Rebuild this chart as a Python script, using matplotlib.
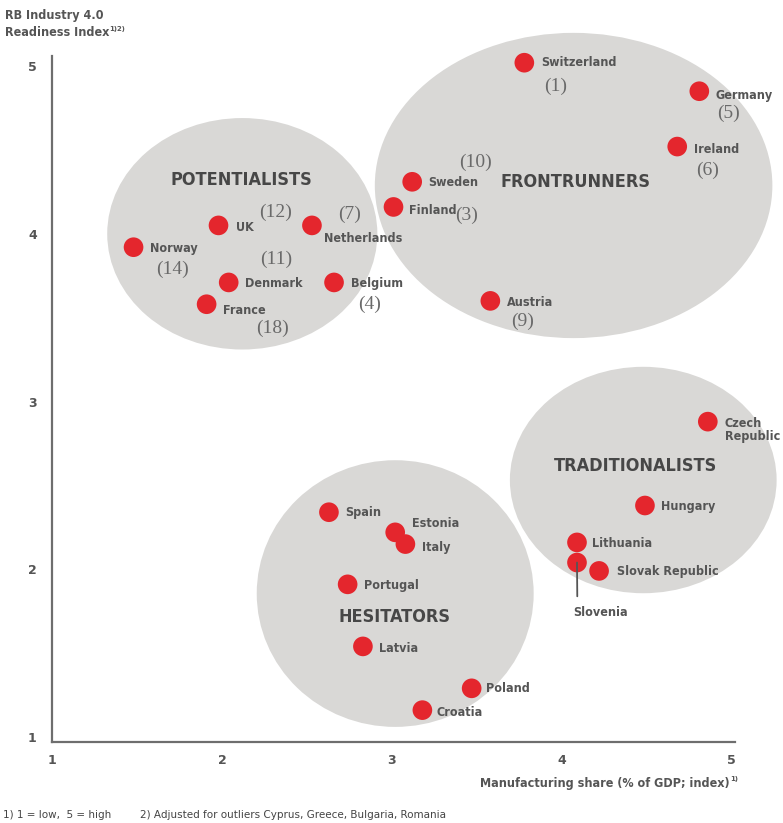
import matplotlib.pyplot as plt
from matplotlib.patches import Ellipse

# Data
countries = ['Switzerland', 'Germany', 'Ireland', 'Sweden', 'Finland', 'Austria',
             'UK', 'Netherlands', 'Norway', 'Denmark', 'Belgium', 'France',
             'Czech\nRepublic', 'Hungary', 'Lithuania', 'Slovenia', 'Slovak Republic',
             'Spain', 'Estonia', 'Italy', 'Portugal', 'Latvia', 'Poland', 'Croatia']
manufacturing = [3.78, 4.81, 4.68, 3.12, 3.01, 3.58,
                 1.98, 2.53, 1.48, 2.04, 2.66, 1.91,
                 4.86, 4.49, 4.09, 4.09, 4.22,
                 2.63, 3.02, 3.08, 2.74, 2.83, 3.47, 3.18]
readiness = [5.02, 4.85, 4.52, 4.31, 4.16, 3.60,
             4.05, 4.05, 3.92, 3.71, 3.71, 3.58,
             2.88, 2.38, 2.16, 2.04, 1.99,
             2.34, 2.22, 2.15, 1.91, 1.54, 1.29, 1.16]
ranks = ['(1)', '(5)', '(6)', '(10)', '(3)', '(9)',
         '(12)', '(7)', '(14)', '(11)', '(4)', '(18)',
         '', '', '', '', '', '', '', '', '', '', '', '']

# label offsets in pixels (name, rank)
name_off = [(17, 0), (16, -4), (17, -3), (16, -1), (16, -4), (17, -2),
            (17, -2), (12, -13), (16, -1), (16, -1), (17, -1), (16, -6),
            (17, -8), (16, -1), (15, -1), (-4, -50), (18, -1),
            (16, 0), (17, 9), (17, -3), (16, -1), (16, -2), (14, 0), (14, -2)]
rank_off = [(31, -24), (29, -22), (30, -24), (63, 19), (73, -8), (32, -20),
            (57, 13), (38, 11), (39, -22), (47, 23), (36, -22), (66, -24)]

groups = ['POTENTIALISTS', 'FRONTRUNNERS', 'TRADITIONALISTS', 'HESITATORS']
group_center = [(2.12, 4.00), (4.07, 4.288), (4.48, 2.532), (3.02, 1.855)]
group_size = [(1.59, 1.38), (2.34, 1.82), (1.57, 1.35), (1.63, 1.59)]
group_label = [(2.116, 4.32), (4.079, 4.31), (4.434, 2.615), (3.016, 1.717)]

GRAY = '#d9d8d6'
RED = '#e4262d'
TXT = '#555555'

fig = plt.figure(figsize=(7.83, 8.23), dpi=100)
ax = fig.add_axes([52 / 783, 81 / 823, 683 / 783, 686 / 823])

for (cx, cy), (w, h) in zip(group_center, group_size):
    ax.add_patch(Ellipse((cx, cy), w, h, facecolor=GRAY, edgecolor='none',
                         clip_on=False, zorder=1))

for name, (gx, gy) in zip(groups, group_label):
    ax.text(gx, gy, name, ha='center', va='center', fontsize=13,
            fontweight='bold', fontstretch='condensed', color='#474747', zorder=3)

ax.scatter(manufacturing, readiness, s=200, color=RED, edgecolors='none',
           zorder=4, clip_on=False)

for i, name in enumerate(countries):
    x, y = manufacturing[i], readiness[i]
    if name == 'Slovenia':
        ax.annotate(name, (x, y), xytext=name_off[i], textcoords='offset pixels',
                    ha='left', va='center', fontsize=9, fontweight='bold',
                    fontstretch='condensed', color=TXT, zorder=5,
                    arrowprops=dict(arrowstyle='-', color='#555555', lw=1.3,
                                    shrinkA=5, shrinkB=0, relpos=(0.08, 1)))
    else:
        ax.annotate(name, (x, y), xytext=name_off[i], textcoords='offset pixels',
                    ha='left', va='center', fontsize=9, fontweight='bold',
                    fontstretch='condensed', color=TXT, zorder=5,
                    linespacing=1.0)
    if ranks[i]:
        ax.annotate(ranks[i], (x, y), xytext=rank_off[i], textcoords='offset pixels',
                    ha='center', va='center', fontsize=14, family='Liberation Serif',
                    color='#6a6a6a', zorder=5)

ax.set_xlim(1, 5.02)
ax.set_ylim(0.97, 5.06)
ax.set_xticks([1, 2, 3, 4, 5])
ax.set_yticks([1, 2, 3, 4, 5])
for s in ['top', 'right']:
    ax.spines[s].set_visible(False)
for s in ['left', 'bottom']:
    ax.spines[s].set_color('#6e6e6e')
    ax.spines[s].set_linewidth(1.6)
ax.tick_params(length=0, labelsize=9, labelcolor=TXT)
ax.tick_params(axis='y', pad=11)
ax.tick_params(axis='x', pad=9)
for lab in ax.get_xticklabels() + ax.get_yticklabels():
    lab.set_fontweight('bold')

# axis titles
fig.text(5 / 783, 1 - 16 / 823, 'RB Industry 4.0', fontsize=9, fontweight='bold',
         fontstretch='condensed', color=TXT, va='center')
t = fig.text(5 / 783, 1 - 33 / 823, 'Readiness Index', fontsize=9, fontweight='bold',
             fontstretch='condensed', color=TXT, va='center')
ax.annotate('1)2)', xy=(1, 0.55), xycoords=t, fontsize=5, fontweight='bold',
            color=TXT, va='bottom', ha='left')
xt = fig.text(730 / 783, 1 - 783 / 823, 'Manufacturing share (% of GDP; index)',
              fontsize=9, fontweight='bold', fontstretch='condensed', color=TXT,
              ha='right', va='center')
ax.annotate('1)', xy=(1, 0.55), xycoords=xt, fontsize=5, fontweight='bold',
            color=TXT, va='bottom', ha='left')

# footnotes
fig.text(3 / 783, 1 - 815 / 823, '1) 1 = low,  5 = high', fontsize=7.5,
         color='#444444', va='center')
fig.text(140 / 783, 1 - 815 / 823,
         '2) Adjusted for outliers Cyprus, Greece, Bulgaria, Romania',
         fontsize=7.5, color='#444444', va='center')

fig.savefig('out.png', dpi=100)
